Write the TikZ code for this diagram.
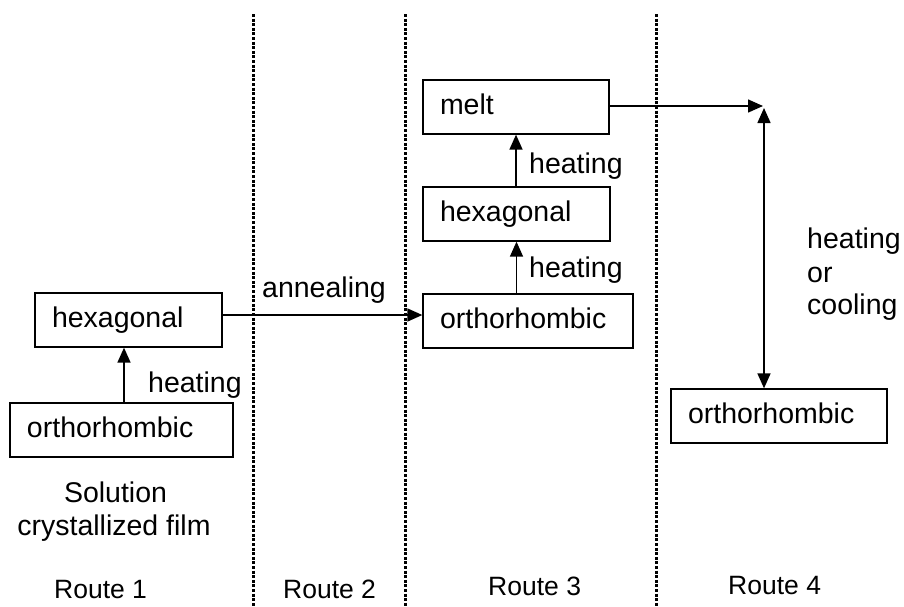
\documentclass[tikz,border=0pt]{standalone}
\usepackage{fontspec}
\setmainfont{Liberation Sans}
\usetikzlibrary{arrows.meta,calc}
\begin{document}
\begin{tikzpicture}[x=1pt,y=-1pt,
  box/.style={draw, line width=1.3pt, minimum height=54pt, inner xsep=17pt, inner ysep=0pt,
    align=left, font=\fontsize{28.5}{34}\selectfont, text height=21pt, text depth=7pt},
  lbl/.style={inner sep=0pt, anchor=base west, font=\fontsize{28.5}{34}\selectfont},
  clbl/.style={inner sep=0pt, anchor=base, font=\fontsize{28.5}{34}\selectfont},
  route/.style={inner sep=0pt, anchor=base west, font=\fontsize{26.5}{32}\selectfont},
  arr/.style={line width=1.5pt, -{Triangle[length=15pt,width=13pt]}},
  arrtwo/.style={line width=1.5pt, {Triangle[length=15pt,width=13pt]}-{Triangle[length=15pt,width=13pt]}},
  sepline/.style={line width=3pt, dash pattern=on 3pt off 1.6pt}
]
\useasboundingbox (0,0) rectangle (904,606);

% separators
\draw[sepline] (253,14) -- (253,606);
\draw[sepline] (405,14) -- (405,606);
\draw[sepline] (656,14) -- (656,606);

% boxes
\node[box, text width=153pt] (h1) at (128.5,320) {hexagonal};
\node[box, text width=189pt] (o1) at (121.5,430) {orthorhombic};
\node[box, text width=152pt] (m3) at (516,107) {melt};
\node[box, text width=153pt] (h3) at (516.5,214) {hexagonal};
\node[box, text width=176pt] (o3) at (528,321) {orthorhombic};
\node[box, text width=182pt] (o4) at (779,416) {orthorhombic};

\coordinate (corner) at (763,106);
\coordinate (vtop) at (764,108);

% arrows
\draw[arr] ([xshift=2.5pt]o1.north) -- ([xshift=2.5pt]o1.north |- h1.south);
\draw[arr] ([yshift=5pt]h1.east) -- ([yshift=5pt]h1.east -| o3.west);
\draw[arr] (h3.south |- o3.north) -- (h3.south);
\draw[arr] (m3.south |- h3.north) -- (m3.south);
\draw[arr] ([yshift=1pt]m3.east) -- (corner);
\draw[arrtwo] (vtop) -- (vtop |- o4.north);

% labels
\node[lbl] (l1) at (148,392) {heating};
\node[lbl] (l2) at (262,297) {annealing};
\node[lbl] (l3) at (529,277) {heating};
\node[lbl] (l4) at (529,173) {heating};
\node[lbl] (l5) at (807,248) {heating};
\node[lbl] (l6) at (807,282) {or};
\node[lbl] (l7) at (807,314) {cooling};
\node[clbl] (s1) at (115.5,502) {Solution};
\node[clbl] (s2) at (114,535) {crystallized film};

\node[route] (r1) at (54,598) {Route 1};
\node[route] (r2) at (283,598) {Route 2};
\node[route] (r3) at (488,595) {Route 3};
\node[route] (r4) at (728,594) {Route 4};
\end{tikzpicture}
\end{document}
